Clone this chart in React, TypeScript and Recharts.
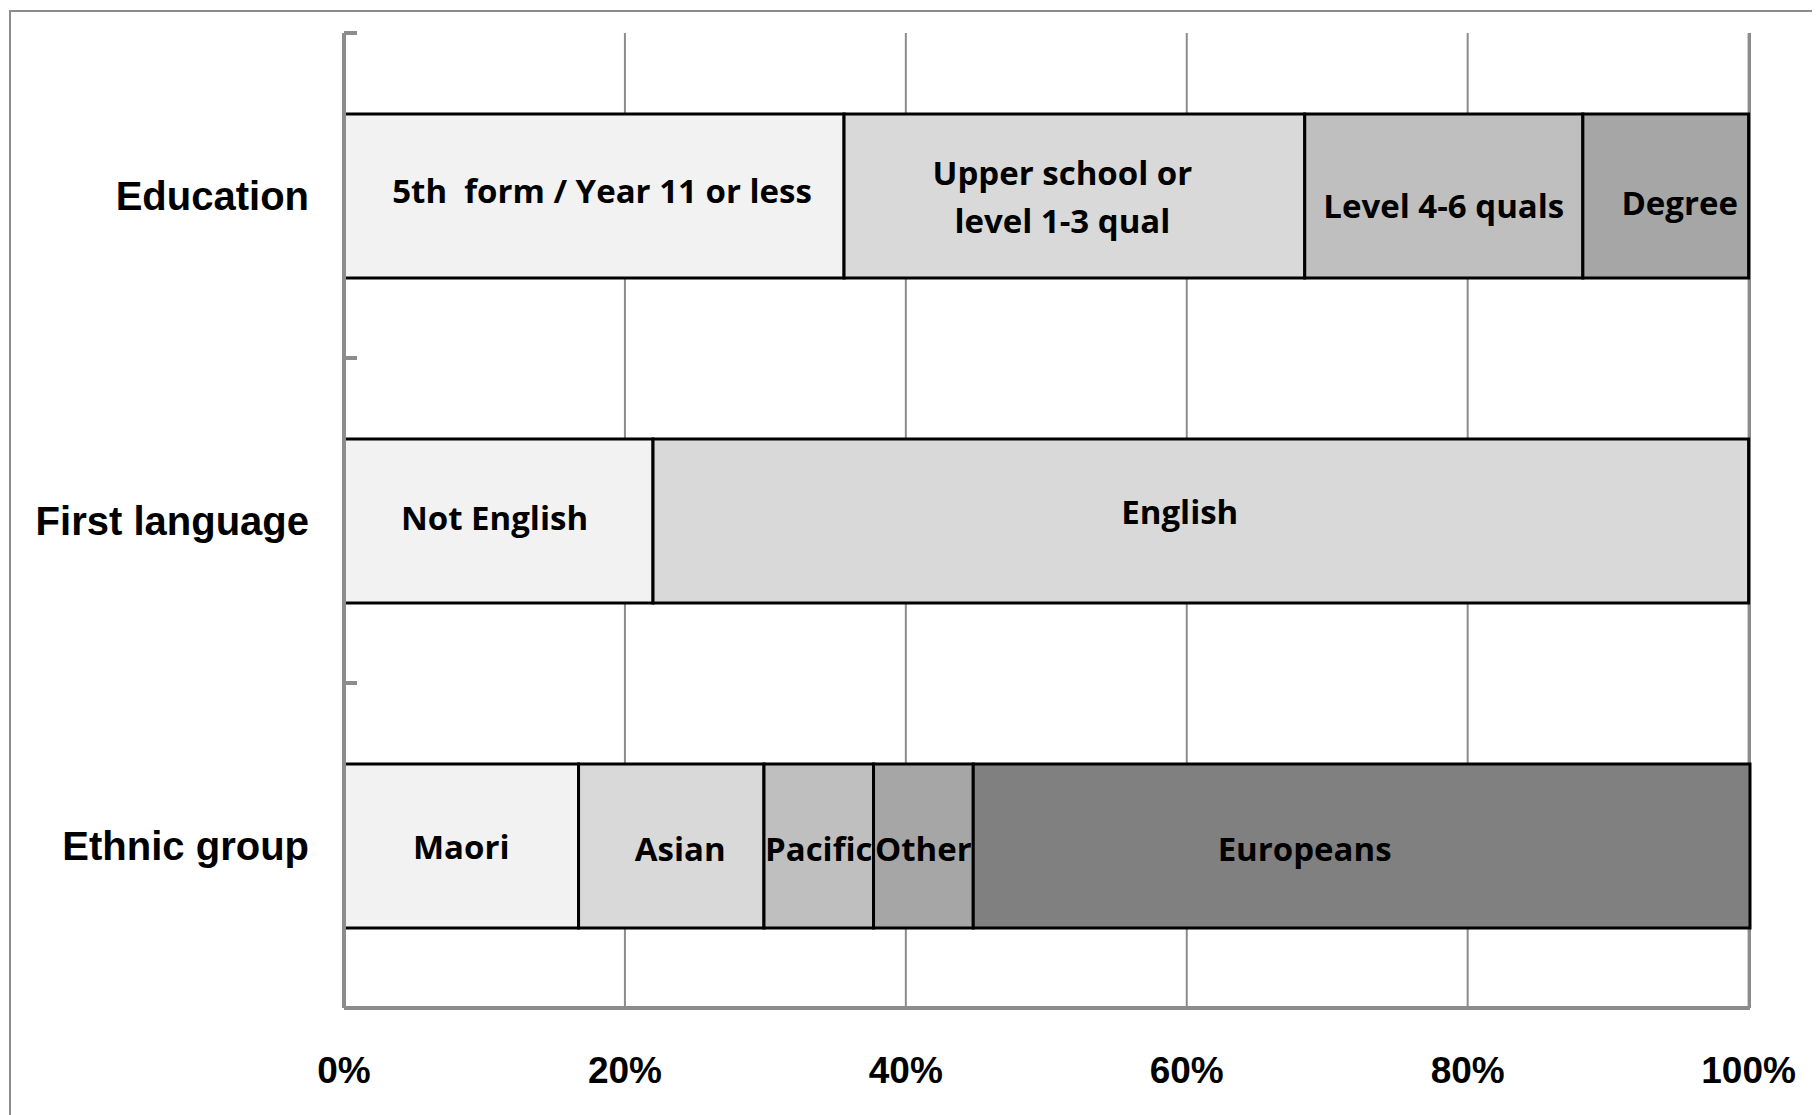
import React from "react";
import { BarChart, Bar, XAxis, YAxis, CartesianGrid, LabelList } from "recharts";

const categories = ["Education", "First language", "Ethnic group"];

const seg1Values = [35.6, 22.0, 16.7];
const seg1Labels = ["5th  form / Year 11 or less", "Not English", "Maori"];
const seg2Values = [32.8, 78.0, 13.2];
const seg2Labels = ["Upper school or\nlevel 1-3 qual", "English", "Asian"];
const seg3Values = [19.8, null, 7.8];
const seg3Labels = ["Level 4-6 quals", "", "Pacific"];
const seg4Values = [11.8, null, 7.1];
const seg4Labels = ["Degree", "", "Other"];
const seg5Values = [null, null, 55.3];
const seg5Labels = ["", "", "Europeans"];

const xTicks = [0, 20, 40, 60, 80, 100];

const fills = ["#f2f2f2", "#d9d9d9", "#bfbfbf", "#a6a6a6", "#808080"];
const GRID = "#8c8c8c";

const W = 1812;
const H = 1107;
const M_TOP = 25;
const X_AXIS_H = 107;
const BAND = (H - M_TOP - X_AXIS_H) / categories.length;

// Excel placed some data labels a little off-centre
const labelNudge: Record<string, [number, number]> = {
  "5th  form / Year 11 or less": [8, -6],
  "Upper school or\nlevel 1-3 qual": [-12, 0],
  "Level 4-6 quals": [0, 9],
  Degree: [14, 6],
  "Not English": [-4, -4],
  English: [-21, -10],
  Asian: [9, 2],
  Pacific: [0, 2],
  Other: [0, 2],
  Europeans: [-57, 2],
};

const data = categories.map((name, i) => ({
  name,
  v1: seg1Values[i],
  l1: seg1Labels[i],
  v2: seg2Values[i],
  l2: seg2Labels[i],
  v3: seg3Values[i],
  l3: seg3Labels[i],
  v4: seg4Values[i],
  l4: seg4Labels[i],
  v5: seg5Values[i],
  l5: seg5Labels[i],
}));

// centred, possibly two-line label inside a segment
const SegmentLabel = (props: any) => {
  const { x, y, width, height, value } = props;
  if (!value || !width) return null;
  const lines = String(value).split("\n");
  const [dx, dy] = labelNudge[value] || [0, 0];
  const lh = 48;
  const cx = x + width / 2 + dx;
  const cy = y + height / 2 + dy - ((lines.length - 1) * lh) / 2;
  return (
    <text
      x={cx}
      y={cy}
      textAnchor="middle"
      dominantBaseline="central"
      style={{ fontFamily: "'Open Sans', sans-serif", fontWeight: 700, fontSize: 33, fill: "#000", whiteSpace: "pre" }}
    >
      {lines.map((ln, k) => (
        <tspan key={k} x={cx} dy={k === 0 ? 0 : lh}>
          {ln}
        </tspan>
      ))}
    </text>
  );
};

// category label plus the small inward tick at the top of each band
const CategoryTick = (props: any) => {
  const { x, y, payload } = props;
  const axisX = x + 35;
  const top = y - BAND / 2;
  return (
    <g>
      <line x1={axisX} x2={axisX + 13} y1={top} y2={top} stroke={GRID} strokeWidth={4} />
      <text
        x={x}
        y={y}
        textAnchor="end"
        dominantBaseline="central"
        style={{ fontFamily: "'Liberation Sans', Arial, sans-serif", fontWeight: 700, fontSize: 40, fill: "#000" }}
      >
        {payload.value}
      </text>
    </g>
  );
};

const series = [
  { key: "v1", label: "l1" },
  { key: "v2", label: "l2" },
  { key: "v3", label: "l3" },
  { key: "v4", label: "l4" },
  { key: "v5", label: "l5" },
];

export default function App() {
  return (
    <div style={{ position: "relative", width: W, height: H }}>
      <div
        style={{
          position: "absolute",
          left: 1,
          top: 2,
          width: 1811,
          height: 1105,
          borderLeft: `2px solid ${GRID}`,
          borderTop: `2px solid ${GRID}`,
          boxSizing: "border-box",
        }}
      />
      <div style={{ position: "absolute", left: 0, top: 0 }}>
        <BarChart
          width={W}
          height={H}
          data={data}
          layout="vertical"
          margin={{ top: M_TOP, right: 70, left: 0, bottom: 0 }}
        >
          <CartesianGrid horizontal={false} stroke={GRID} strokeWidth={2} />
          <XAxis
            type="number"
            domain={[0, 100]}
            ticks={xTicks}
            tickFormatter={(v) => `${v}%`}
            height={X_AXIS_H}
            tickSize={0}
            tickMargin={49}
            tickLine={false}
            axisLine={{ stroke: GRID, strokeWidth: 4 }}
            tick={{ fontFamily: "'Liberation Sans', Arial, sans-serif", fontWeight: 700, fontSize: 37, fill: "#000" }}
          />
          <YAxis
            type="category"
            dataKey="name"
            width={336}
            tickSize={0}
            tickMargin={35}
            tickLine={false}
            axisLine={{ stroke: GRID, strokeWidth: 4 }}
            tick={<CategoryTick />}
          />
          {series.map((s, i) => (
            <Bar
              key={s.key}
              dataKey={s.key}
              stackId="a"
              fill={fills[i]}
              stroke="#000"
              strokeWidth={3}
              barSize={164}
              isAnimationActive={false}
            >
              <LabelList dataKey={s.label} content={SegmentLabel} />
            </Bar>
          ))}
        </BarChart>
      </div>
    </div>
  );
}
